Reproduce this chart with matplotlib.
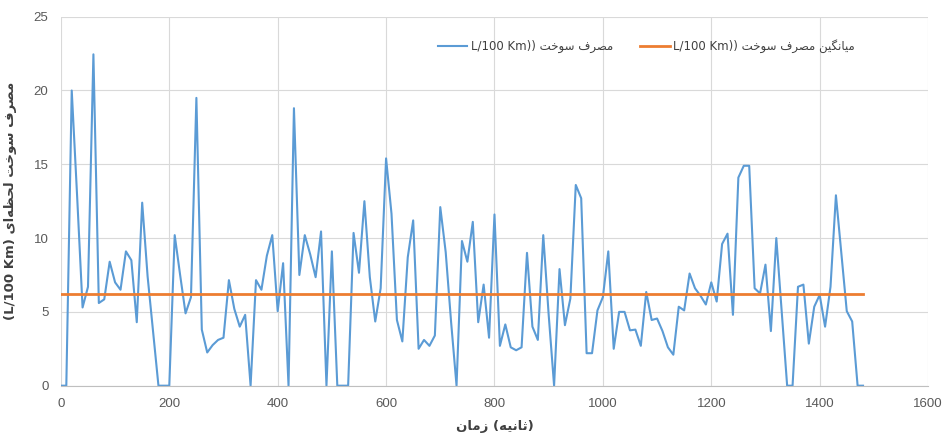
import numpy as np
import matplotlib
matplotlib.use("Agg")
import matplotlib.pyplot as plt

# sample times (s), one reading every 10 s
time_s = np.arange(0, 1490, 10)

fuel = [
    0, 0, 20.0, 12.8, 5.3, 6.7, 22.45, 5.6, 5.85, 8.4,
    7.0, 6.5, 9.1, 8.5, 4.3, 12.4, 7.4, 3.7, 0, 0,
    0, 10.2, 7.5, 4.9, 6.0, 19.5, 3.8, 2.25, 2.75, 3.1,
    3.25, 7.15, 5.2, 4.0, 4.8, 0, 7.15, 6.5, 8.8, 10.2,
    5.05, 8.3, 0, 18.8, 7.5, 10.2, 8.9, 7.35, 10.45, 0,
    9.1, 0, 0, 0, 10.35, 7.65, 12.5, 7.35, 4.35, 6.6,
    15.4, 11.65, 4.45, 3.0, 8.7, 11.2, 2.5, 3.1, 2.7, 3.4,
    12.1, 9.05, 4.3, 0, 9.8, 8.4, 11.1, 4.3, 6.85, 3.25,
    11.6, 2.7, 4.15, 2.6, 2.4, 2.6, 9.0, 4.0, 3.1, 10.2,
    4.8, 0, 7.9, 4.1, 5.9, 13.6, 12.7, 2.2, 2.2, 5.1,
    6.0, 9.1, 2.5, 5.0, 5.0, 3.75, 3.8, 2.7, 6.35, 4.45,
    4.55, 3.7, 2.6, 2.1, 5.35, 5.1, 7.6, 6.6, 6.1, 5.5,
    7.0, 5.7, 9.6, 10.3, 4.8, 14.1, 14.9, 14.9, 6.6, 6.25,
    8.2, 3.7, 10.0, 5.0, 0, 0, 6.7, 6.85, 2.85, 5.35,
    6.15, 4.0, 6.7, 12.9, 9.0, 5.05, 4.35, 0, 0,
]
fuel_mean = 6.24

x_ticks = [0, 200, 400, 600, 800, 1000, 1200, 1400, 1600]
y_ticks = [0, 5, 10, 15, 20, 25]

# persian letters -> (isolated, final, initial, medial); None = does not join forward
FORMS = {
    "\u0627": ("\uFE8D", "\uFE8E", None, None),
    "\u062A": ("\uFE95", "\uFE96", "\uFE97", "\uFE98"),
    "\u062B": ("\uFE99", "\uFE9A", "\uFE9B", "\uFE9C"),
    "\u062D": ("\uFEA1", "\uFEA2", "\uFEA3", "\uFEA4"),
    "\u062E": ("\uFEA5", "\uFEA6", "\uFEA7", "\uFEA8"),
    "\u0631": ("\uFEAD", "\uFEAE", None, None),
    "\u0632": ("\uFEAF", "\uFEB0", None, None),
    "\u0633": ("\uFEB1", "\uFEB2", "\uFEB3", "\uFEB4"),
    "\u0635": ("\uFEB9", "\uFEBA", "\uFEBB", "\uFEBC"),
    "\u0638": ("\uFEC5", "\uFEC6", "\uFEC7", "\uFEC8"),
    "\u0641": ("\uFED1", "\uFED2", "\uFED3", "\uFED4"),
    "\u0644": ("\uFEDD", "\uFEDE", "\uFEDF", "\uFEE0"),
    "\u0645": ("\uFEE1", "\uFEE2", "\uFEE3", "\uFEE4"),
    "\u0646": ("\uFEE5", "\uFEE6", "\uFEE7", "\uFEE8"),
    "\u0647": ("\uFEE9", "\uFEEA", "\uFEEB", "\uFEEC"),
    "\u0648": ("\uFEED", "\uFEEE", None, None),
    "\u06CC": ("\uFBFC", "\uFBFD", "\uFBFE", "\uFBFF"),
    "\u06AF": ("\uFB92", "\uFB93", "\uFB94", "\uFB95"),
}


def rtl(text):
    # join letters by hand and flip to visual order (matplotlib has no bidi)
    out = []
    for i, c in enumerate(text):
        if c not in FORMS:
            if c != "\u200c":
                out.append(c)
            continue
        prev = text[i - 1] if i > 0 else None
        nxt = text[i + 1] if i + 1 < len(text) else None
        iso, fin, ini, med = FORMS[c]
        join_prev = prev in FORMS and FORMS[prev][2] is not None
        join_next = ini is not None and nxt in FORMS
        if join_prev and join_next:
            out.append(med)
        elif join_prev:
            out.append(fin)
        elif join_next:
            out.append(ini)
        else:
            out.append(iso)
    return "".join(out)[::-1]


label_fuel = "L/100 Km)) " + rtl("مصرف سوخت")
label_mean = "L/100 Km)) " + rtl("میانگین مصرف سوخت")
x_label = rtl("زمان") + " (" + rtl("ثانیه") + ")"
y_label = "(L/100 Km) " + rtl("مصرف سوخت لحظه\u200cای")

plt.rcParams["font.family"] = ["DejaVu Sans"]

fig = plt.figure(figsize=(9.47, 4.36), dpi=100)
ax = fig.add_axes([0.0643, 0.1154, 0.9157, 0.8463])

ax.plot(time_s, fuel, color="#5B9BD5", lw=1.5, label=label_fuel)
ax.plot([time_s[0], time_s[-1]], [fuel_mean, fuel_mean], color="#ED7D31", lw=2, label=label_mean)

ax.set_xlim(0, 1600)
ax.set_ylim(0, 25)
ax.set_xticks(x_ticks)
ax.set_yticks(y_ticks)
ax.grid(True, color="#d9d9d9", lw=0.8)
ax.set_axisbelow(True)
for s in ["top", "right", "left"]:
    ax.spines[s].set_visible(False)
ax.spines["bottom"].set_color("#bfbfbf")
ax.tick_params(length=0, labelsize=9.5, labelcolor="#595959", pad=9)
for lbl in ax.get_xticklabels() + ax.get_yticklabels():
    lbl.set_fontfamily(["Liberation Sans", "DejaVu Sans"])

ax.set_xlabel(x_label, fontsize=9.5, color="#404040", fontweight="bold", labelpad=7)
ax.set_ylabel(y_label, fontsize=9.5, color="#404040", fontweight="bold", labelpad=12)

ax.legend(loc="center", bbox_to_anchor=(0.675, 0.92), ncol=2, frameon=False,
          fontsize=8.5, labelcolor="#404040", handlelength=2.5, columnspacing=2.3,
          handletextpad=0.3)

fig.savefig("out.png", dpi=100)
